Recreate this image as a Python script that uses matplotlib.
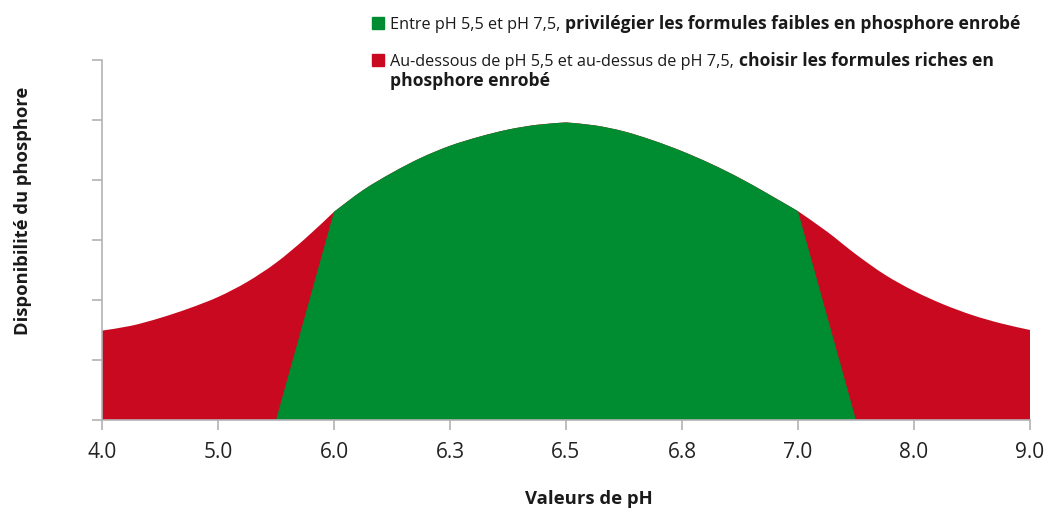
import matplotlib
matplotlib.use("Agg")
import matplotlib.pyplot as plt
from matplotlib.patches import Rectangle, PathPatch
from matplotlib.path import Path

plt.rcParams['font.family'] = ['Open Sans', 'DejaVu Sans']

# ---- data (x in category-index units of the pH axis) ----
ph_labels = ["4.0", "5.0", "6.0", "6.3", "6.5", "6.8", "7.0", "8.0", "9.0"]

left_red_x = [0.0, 0.25, 0.5, 0.75, 1.0, 1.25, 1.5, 1.75, 2.0]
left_red_y = [1.49, 1.57, 1.70, 1.86, 2.05, 2.30, 2.62, 3.02, 3.47]

left_green_x = [2.0, 2.25, 2.5, 2.75, 3.0, 3.25, 3.5, 3.75, 4.0]
left_green_y = [3.47, 3.83, 4.12, 4.37, 4.57, 4.72, 4.84, 4.92, 4.96]

right_green_x = [4.0, 4.25, 4.5, 4.75, 5.0, 5.25, 5.5, 5.75, 6.0]
right_green_y = [4.96, 4.91, 4.81, 4.66, 4.48, 4.27, 4.03, 3.76, 3.48]

right_red_x = [6.0, 6.25, 6.5, 6.75, 7.0, 7.25, 7.5, 7.75, 8.0]
right_red_y = [3.48, 3.14, 2.76, 2.42, 2.15, 1.93, 1.75, 1.61, 1.50]

green_base_left = 1.5   # pH 5.5
green_base_right = 6.5  # pH 7.5

GREEN = "#008c30"
RED = "#c8091f"
GREY = "#b3b3b3"
TXT = "#1a1a1a"


def smooth_segments(xs, ys):
    """Catmull-Rom spline through the points, as cubic Bezier path pieces."""
    verts, codes = [], []
    n = len(xs)
    for i in range(n - 1):
        x0, y0 = xs[max(i - 1, 0)], ys[max(i - 1, 0)]
        x1, y1 = xs[i], ys[i]
        x2, y2 = xs[i + 1], ys[i + 1]
        x3, y3 = xs[min(i + 2, n - 1)], ys[min(i + 2, n - 1)]
        c1 = (x1 + (x2 - x0) / 6.0, y1 + (y2 - y0) / 6.0)
        c2 = (x2 - (x3 - x1) / 6.0, y2 - (y3 - y1) / 6.0)
        verts += [c1, c2, (x2, y2)]
        codes += [Path.CURVE4] * 3
    return verts, codes


fig = plt.figure(figsize=(10.48, 5.08), dpi=100)
ax = fig.add_axes([102/1048, 1 - 420/508, (1030-102)/1048, 360/508])

# red: whole area under the curve
verts = [(left_red_x[0], 0), (left_red_x[0], left_red_y[0])]
codes = [Path.MOVETO, Path.LINETO]
for xs, ys in [(left_red_x, left_red_y), (left_green_x, left_green_y),
               (right_green_x, right_green_y), (right_red_x, right_red_y)]:
    v, c = smooth_segments(xs, ys)
    verts += v
    codes += c
verts += [(right_red_x[-1], 0), (0, 0)]
codes += [Path.LINETO, Path.CLOSEPOLY]
ax.add_patch(PathPatch(Path(verts, codes), facecolor=RED, edgecolor="none"))

# green: between pH 5.5 and 7.5 on the base, pH 6.0 to 7.0 on the curve
verts = [(green_base_left, 0), (left_green_x[0], left_green_y[0])]
codes = [Path.MOVETO, Path.LINETO]
for xs, ys in [(left_green_x, left_green_y), (right_green_x, right_green_y)]:
    v, c = smooth_segments(xs, ys)
    verts += v
    codes += c
verts += [(green_base_right, 0), (green_base_left, 0)]
codes += [Path.LINETO, Path.CLOSEPOLY]
ax.add_patch(PathPatch(Path(verts, codes), facecolor=GREEN, edgecolor="none"))

ax.set_xlim(0, 8)
ax.set_ylim(0, 6)
ax.set_xticks(range(len(ph_labels)))
ax.set_xticklabels(ph_labels, fontsize=15, color="#222222")
ax.set_yticks(range(0, 7))
ax.set_yticklabels([])
for s in ["top", "right"]:
    ax.spines[s].set_visible(False)
for s in ["left", "bottom"]:
    ax.spines[s].set_color(GREY)
    ax.spines[s].set_linewidth(1.2)
ax.tick_params(axis="both", color=GREY, length=7.2, width=1.2)
ax.tick_params(axis="x", pad=9)

fig.text(589/1048, 1 - 504/508, "Valeurs de pH", ha="center", va="baseline",
         fontsize=13.3, fontweight="bold", color=TXT)
fig.text(23/1048, 1 - 211/508, "Disponibilité du phosphore", ha="center", va="center",
         rotation=90, fontsize=13.2, fontweight="bold", color=TXT)

# ---- legend ----
fig.patches.append(Rectangle((372/1048, 1 - 29/508), 12/1048, 12/508,
                             transform=fig.transFigure, color=GREEN, figure=fig))
fig.patches.append(Rectangle((372/1048, 1 - 66/508), 12/1048, 12/508,
                             transform=fig.transFigure, color=RED, figure=fig))

fs = 11.7
fsb = 12.6
t1 = fig.text(390/1048, 1 - 29/508, "Entre pH 5,5 et pH 7,5,", ha="left", va="baseline",
              fontsize=fs, color=TXT)
fig.add_artist(plt.Annotation("privilégier les formules faibles en phosphore enrobé",
                              xy=(1, 0), xycoords=t1, xytext=(3.5, 0),
                              textcoords="offset points", va="bottom", ha="left",
                              fontsize=fsb, fontweight="bold", color=TXT))
t2 = fig.text(390/1048, 1 - 65.7/508, "Au-dessous de pH 5,5 et au-dessus de pH 7,5,",
              ha="left", va="baseline", fontsize=fs, color=TXT)
fig.add_artist(plt.Annotation("choisir les formules riches en",
                              xy=(1, 0), xycoords=t2, xytext=(3.5, 0),
                              textcoords="offset points", va="bottom", ha="left",
                              fontsize=fsb, fontweight="bold", color=TXT))
fig.text(390/1048, 1 - 85.7/508, "phosphore enrobé", ha="left", va="baseline",
         fontsize=fsb, fontweight="bold", color=TXT)

fig.savefig("out.png", dpi=100)
